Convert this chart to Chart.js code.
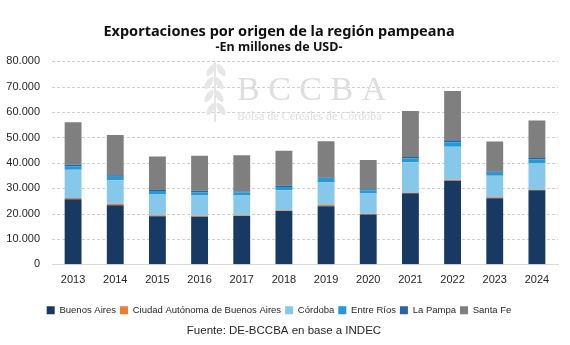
<!doctype html>
<html>
<head>
    <title>Exportaciones por origen de la región pampeana</title>
    <script src="https://cdn.jsdelivr.net/npm/chart.js"></script>
    <style>
        html, body { margin: 0; padding: 0; background: #fff; }
        .wrapper { width: 570px; height: 345px; position: relative; }
    </style>
</head>
<body>
    <div class="wrapper">
        <canvas id="chart" width="570" height="345"></canvas>
    </div>

    <script>
        // Data (millones de USD)
        var years = ['2013', '2014', '2015', '2016', '2017', '2018', '2019', '2020', '2021', '2022', '2023', '2024'];
        var buenosAires = [25600, 23300, 18900, 18700, 19000, 21000, 22900, 19600, 28000, 32900, 26000, 29200];
        var caba        = [  500,   600,   400,   400,   300,   300,   500,   300,   300,   400,   400,   300];
        var cordoba     = [11200,  9200,  8400,  8200,  8000,  7900,  8900,  8000, 11900, 13000,  8500, 10400];
        var entreRios   = [ 1400,  1400,  1200,  1100,  1000,  1300,  1400,  1300,  1500,  1800,  1200,  1400];
        var laPampa     = [  600,   600,   400,   600,   400,   500,   500,   400,   600,   800,   500,   600];
        var santaFe     = [16700, 15900, 13200, 13800, 14300, 13800, 14300, 11500, 18100, 19400, 11800, 14800];
        var yTicks = [0, 10000, 20000, 30000, 40000, 50000, 60000, 70000, 80000];

        function fmt(v) {
            return v.toString().replace(/\B(?=(\d{3})+(?!\d))/g, '.');
        }

        // Dashed gridlines, watermark and source line
        var extras = {
            id: 'extras',
            beforeDatasetsDraw: function(chart) {
                var c = chart.ctx, y = chart.scales.y, area = chart.chartArea;
                c.save();
                c.strokeStyle = '#d0d0d0';
                c.lineWidth = 1;
                c.setLineDash([3, 2]);
                yTicks.forEach(function(v) {
                    if (v === 0) return;
                    var py = Math.round(y.getPixelForValue(v)) + 0.5;
                    c.beginPath(); c.moveTo(area.left, py); c.lineTo(area.right, py); c.stroke();
                });
                c.setLineDash([]);

                // simple wheat sprig
                c.fillStyle = '#e6e6e6';
                var leaves = [[216, 70], [214, 83], [214, 96], [216, 109]];
                leaves.forEach(function(p) {
                    c.beginPath(); c.ellipse(p[0] - 5, p[1], 3, 7, 0.6, 0, 2 * Math.PI); c.fill();
                    c.beginPath(); c.ellipse(p[0] + 5, p[1], 3, 7, -0.6, 0, 2 * Math.PI); c.fill();
                });
                c.fillRect(214, 62, 2, 60);
                c.fillStyle = '#dedede';
                c.font = '34px "Liberation Serif", serif';
                c.textAlign = 'left';
                c.textBaseline = 'alphabetic';
                c.fillText('B C C B A', 237, 100);
                c.font = '12px "Liberation Serif", serif';
                c.fillText('Bolsa de Cereales de Córdoba', 237, 120);
                c.restore();
            },
            afterDraw: function(chart) {
                var c = chart.ctx;
                c.save();
                c.fillStyle = '#262626';
                c.font = '11.5px "Liberation Sans", Arial, sans-serif';
                c.textAlign = 'center';
                c.textBaseline = 'middle';
                c.fillText('Fuente: DE-BCCBA en base a INDEC', 284, 331);
                c.restore();
            }
        };

        var ctx = document.getElementById('chart').getContext('2d');
        var chart = new Chart(ctx, {
            type: 'bar',
            data: {
                labels: years,
                datasets: [
                    { label: 'Buenos Aires', data: buenosAires, backgroundColor: '#183a62' },
                    { label: 'Ciudad Autónoma de Buenos Aires', data: caba, backgroundColor: '#ed7d31' },
                    { label: 'Córdoba', data: cordoba, backgroundColor: '#86c8ea' },
                    { label: 'Entre Ríos', data: entreRios, backgroundColor: '#1f9bd7' },
                    { label: 'La Pampa', data: laPampa, backgroundColor: '#2a64a6' },
                    { label: 'Santa Fe', data: santaFe, backgroundColor: '#7f7f7f' }
                ]
            },
            options: {
                responsive: false,
                animation: false,
                layout: { padding: { left: 0, right: 12, top: 17, bottom: 20 } },
                datasets: {
                    bar: { barPercentage: 0.4, categoryPercentage: 1, borderWidth: 0 }
                },
                plugins: {
                    title: {
                        display: true,
                        text: 'Exportaciones por origen de la región pampeana',
                        color: '#111',
                        font: { family: '"Noto Sans", sans-serif', size: 14.5, weight: 'bold' },
                        padding: { top: 6, bottom: 0 }
                    },
                    subtitle: {
                        display: true,
                        text: '-En millones de USD-',
                        color: '#111',
                        font: { family: '"Noto Sans", sans-serif', size: 12.5, weight: 'bold' },
                        padding: { top: 0, bottom: 6 }
                    },
                    legend: {
                        position: 'bottom',
                        labels: {
                            boxWidth: 8,
                            boxHeight: 8,
                            padding: 4,
                            color: '#262626',
                            font: { family: '"Liberation Sans", Arial, sans-serif', size: 9.5 }
                        }
                    },
                    tooltip: { enabled: false }
                },
                scales: {
                    x: {
                        stacked: true,
                        grid: { display: false },
                        border: { display: true, color: '#d9d9d9', width: 1 },
                        afterFit: function(scale) { scale.height += 14; },
                        ticks: {
                            padding: 1,
                            color: '#262626',
                            font: { family: '"Liberation Sans", Arial, sans-serif', size: 11 }
                        }
                    },
                    y: {
                        stacked: true,
                        min: 0,
                        max: 80000,
                        afterBuildTicks: function(axis) {
                            axis.ticks = yTicks.map(function(v) { return { value: v }; });
                        },
                        afterFit: function(scale) { scale.width = 52; },
                        grid: { display: false, drawTicks: false },
                        border: { display: false },
                        ticks: {
                            padding: 12,
                            color: '#262626',
                            font: { family: '"Liberation Sans", Arial, sans-serif', size: 11 },
                            callback: function(v) { return fmt(v); }
                        }
                    }
                }
            },
            plugins: [extras]
        });
    </script>
</body>
</html>
